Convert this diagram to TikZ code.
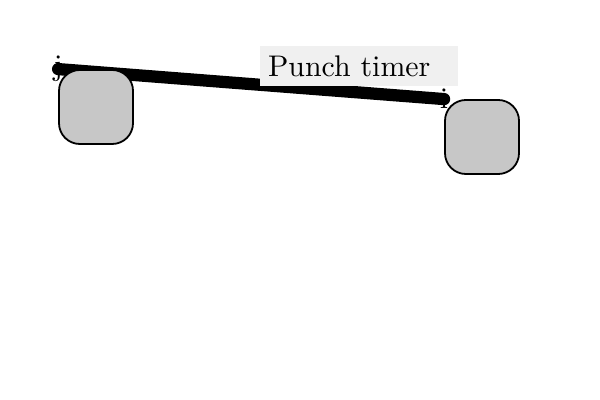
\documentclass[tikz,border=0pt]{standalone}
\usetikzlibrary{positioning,backgrounds}
\tikzset{
  slot/.style={draw=black, semithick, fill=black!22, rounded corners=7pt,
    minimum size=24.8pt, inner sep=0pt},
  tag/.style={fill=black!6, inner xsep=2.7pt, inner ysep=3.2pt,
    text width=61pt, align=left},
}
\begin{document}
\begin{tikzpicture}[x=0.335pt,y=-0.335pt]
  \useasboundingbox (0,0) rectangle (600,400);
  \node[slot] (j) at (96,107) {};
  \node[slot] (i) at (482,137) {};
  \begin{scope}[on background layer]
    \draw[line width=4.1pt, line cap=round] (j.north west) -- (i.north west)
      node[pos=0] {j} node[pos=1] {i}
      node[tag, above, pos=0.78] {Punch timer};
  \end{scope}
\end{tikzpicture}
\end{document}
